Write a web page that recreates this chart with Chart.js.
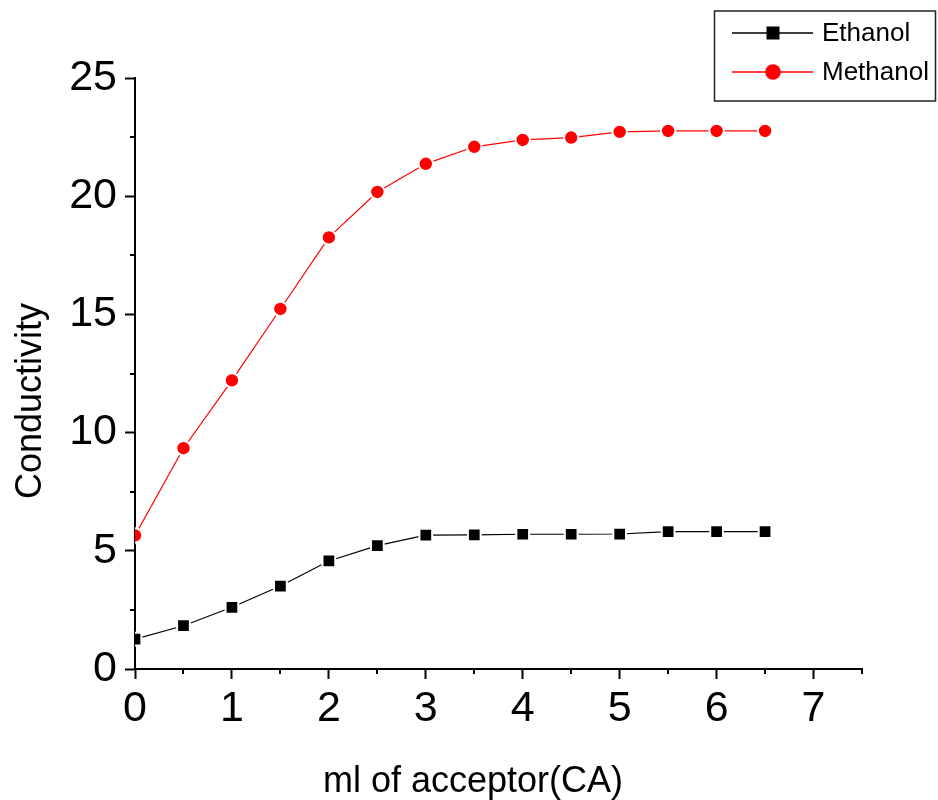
<!DOCTYPE html>
<html>
<head>
<meta charset="utf-8">
<script src="https://cdn.jsdelivr.net/npm/chart.js@4/dist/chart.umd.min.js"></script>
<style>
  html, body { margin: 0; padding: 0; background: #fff; }
  #chart { display: block; }
</style>
</head>
<body>
<canvas id="chart" width="938" height="800"></canvas>
<script>
  // volume of CA added (ml)
  const acceptorMl = [0, 0.5, 1, 1.5, 2, 2.5, 3, 3.5, 4, 4.5, 5, 5.5, 6, 6.5];
  const ethanol = [1.26, 1.83, 2.61, 3.51, 4.57, 5.22, 5.66, 5.67, 5.70, 5.70, 5.71, 5.81, 5.81, 5.81];
  const methanol = [5.65, 9.34, 12.21, 15.23, 18.26, 20.18, 21.37, 22.09, 22.38, 22.48, 22.72, 22.76, 22.76, 22.76];

  const xMajorTicks = [0, 1, 2, 3, 4, 5, 6, 7];
  const xMinorTicks = [0.5, 1.5, 2.5, 3.5, 4.5, 5.5, 6.5, 7.5];
  const yMajorTicks = [0, 5, 10, 15, 20, 25];
  const yMinorTicks = [2.5, 7.5, 12.5, 17.5, 22.5];

  const FONT = "'Liberation Sans', Arial, sans-serif";

  // short inner ticks between the labelled ones
  const minorTicks = {
    id: 'minorTicks',
    afterDraw(chart) {
      const { ctx, scales: { x, y } } = chart;
      ctx.save();
      ctx.strokeStyle = '#000';
      ctx.lineWidth = 2;
      ctx.beginPath();
      xMinorTicks.forEach(v => {
        const px = Math.round(x.getPixelForValue(v));
        ctx.moveTo(px, y.bottom);
        ctx.lineTo(px, y.bottom + 5);
      });
      yMinorTicks.forEach(v => {
        const py = Math.round(y.getPixelForValue(v));
        ctx.moveTo(x.left, py);
        ctx.lineTo(x.left - 5, py);
      });
      ctx.stroke();
      ctx.restore();
    }
  };

  // axis titles sit centred on the whole figure
  const axisTitles = {
    id: 'axisTitles',
    afterDraw(chart) {
      const { ctx } = chart;
      ctx.save();
      ctx.fillStyle = '#000';
      ctx.font = '36px ' + FONT;
      ctx.textAlign = 'center';
      ctx.textBaseline = 'alphabetic';
      ctx.fillText('ml of acceptor(CA)', 473, 792);
      ctx.translate(41, 401);
      ctx.rotate(-Math.PI / 2);
      ctx.fillText('Conductivity', 0, 0);
      ctx.restore();
    }
  };

  // boxed legend with a line through each marker
  const boxLegend = {
    id: 'boxLegend',
    afterDraw(chart) {
      const { ctx } = chart;
      const rows = [{ y: 33 }, { y: 72 }];
      ctx.save();
      ctx.strokeStyle = '#222';
      ctx.lineWidth = 1.5;
      ctx.strokeRect(714.5, 11, 221, 90);
      chart.data.datasets.forEach((ds, i) => {
        const ry = rows[i].y;
        ctx.strokeStyle = ds.borderColor;
        ctx.lineWidth = 1.5;
        ctx.beginPath();
        ctx.moveTo(732, ry);
        ctx.lineTo(813, ry);
        ctx.stroke();
        ctx.fillStyle = ds.pointBackgroundColor;
        if (ds.pointStyle === 'rect') {
          ctx.fillRect(773 - 6.5, ry - 6.5, 13, 13);
        } else {
          ctx.beginPath();
          ctx.arc(773, ry, 7.8, 0, Math.PI * 2);
          ctx.fill();
        }
        ctx.fillStyle = '#000';
        ctx.font = '26px ' + FONT;
        ctx.textAlign = 'left';
        ctx.textBaseline = 'middle';
        ctx.fillText(ds.label, 822, ry + 1);
      });
      ctx.restore();
    }
  };

  new Chart(document.getElementById('chart'), {
    type: 'line',
    data: {
      labels: acceptorMl,
      datasets: [
        {
          label: 'Ethanol',
          data: acceptorMl.map((v, i) => ({ x: v, y: ethanol[i] })),
          borderColor: '#000',
          borderWidth: 1.2,
          pointStyle: 'rect',
          pointRadius: 9,
          pointBackgroundColor: '#000',
          pointBorderColor: '#fff',
          pointBorderWidth: 2
        },
        {
          label: 'Methanol',
          data: acceptorMl.map((v, i) => ({ x: v, y: methanol[i] })),
          borderColor: '#ff0000',
          borderWidth: 1.2,
          pointStyle: 'circle',
          pointRadius: 7.2,
          pointBackgroundColor: '#ff0000',
          pointBorderColor: '#fff',
          pointBorderWidth: 2
        }
      ]
    },
    options: {
      responsive: false,
      animation: false,
      layout: { padding: { left: 0, top: 78, right: 76, bottom: 0 } },
      plugins: {
        legend: { display: false },
        tooltip: { enabled: false }
      },
      scales: {
        x: {
          type: 'linear',
          min: 0,
          max: 7.5,
          z: 1,
          afterBuildTicks: s => { s.ticks = xMajorTicks.map(v => ({ value: v })); },
          afterFit: s => { s.height = 131; },
          border: { display: true, color: '#000', width: 2 },
          grid: { drawOnChartArea: false, drawTicks: true, tickLength: 10, tickWidth: 2, tickColor: '#000' },
          ticks: { color: '#000', padding: 4, font: { family: FONT, size: 43 }, maxRotation: 0 }
        },
        y: {
          type: 'linear',
          min: 0,
          max: 25,
          z: 1,
          afterBuildTicks: s => { s.ticks = yMajorTicks.map(v => ({ value: v })); },
          afterFit: s => { s.width = 135; },
          border: { display: true, color: '#000', width: 2 },
          grid: { drawOnChartArea: false, drawTicks: true, tickLength: 10, tickWidth: 2, tickColor: '#000' },
          ticks: { color: '#000', padding: 8, font: { family: FONT, size: 43 } }
        }
      }
    },
    plugins: [minorTicks, axisTitles, boxLegend]
  });
</script>
</body>
</html>
